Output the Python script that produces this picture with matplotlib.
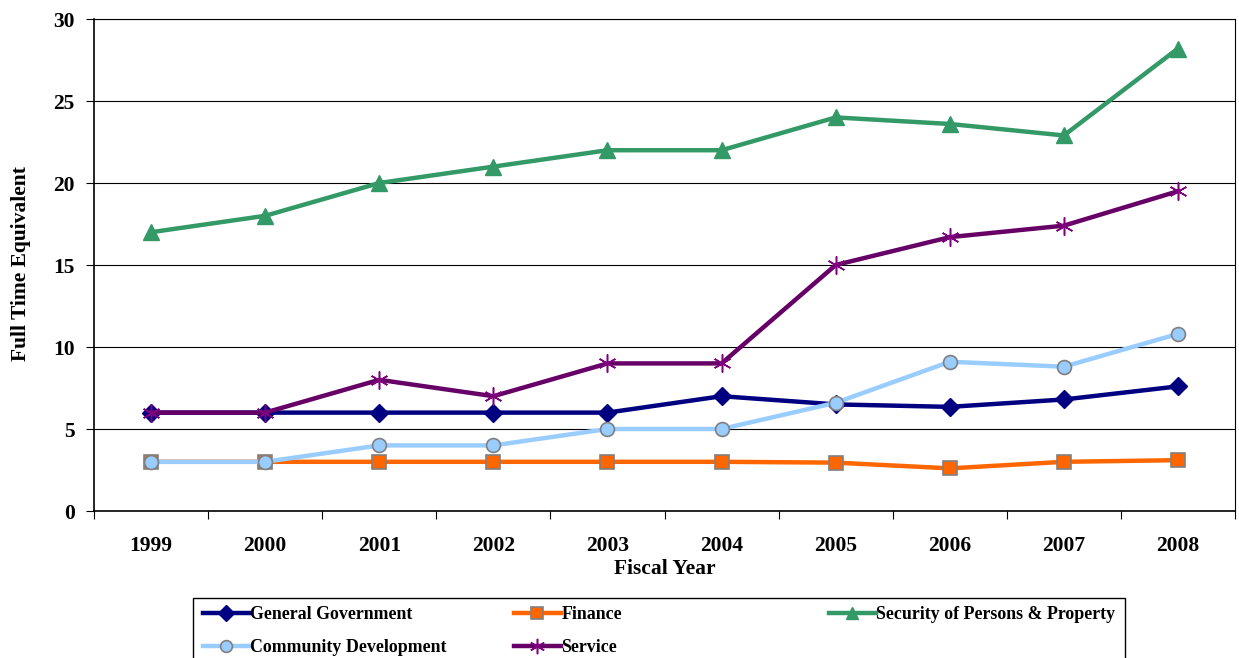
"""Full time equivalent staffing by function, fiscal years 1999-2008."""

import matplotlib

matplotlib.use("Agg")
import matplotlib.pyplot as plt
from matplotlib.patches import Rectangle

years = ["1999", "2000", "2001", "2002", "2003", "2004", "2005", "2006", "2007", "2008"]

general_government = [6, 6, 6, 6, 6, 7, 6.5, 6.35, 6.8, 7.6]
finance = [3, 3, 3, 3, 3, 3, 2.95, 2.6, 3.0, 3.1]
security = [17, 18, 20, 21, 22, 22, 24, 23.6, 22.9, 28.2]
community_development = [3, 3, 4, 4, 5, 5, 6.6, 9.1, 8.8, 10.8]
service = [6, 6, 8, 7, 9, 9, 15, 16.7, 17.4, 19.5]

y_ticks = [0, 5, 10, 15, 20, 25, 30]

plt.rcParams["font.family"] = ["Liberation Serif", "DejaVu Serif"]
plt.rcParams["font.weight"] = "bold"

fig = plt.figure(figsize=(12.39, 6.58), dpi=100)
ax = fig.add_axes([0.0759, 0.2234, 0.9209, 0.7477])

x = list(range(len(years)))

gg, = ax.plot(x, general_government, color="#000080", linewidth=3.2, marker="D",
              markersize=9, markerfacecolor="#000080", markeredgecolor="#000080",
              label="General Government", zorder=3)
fin, = ax.plot(x, finance, color="#FF6600", linewidth=3.2, marker="s",
               markersize=10, markerfacecolor="#FF6600", markeredgecolor="#808080",
               markeredgewidth=1.2, label="Finance", zorder=3)
sec, = ax.plot(x, security, color="#339966", linewidth=3.2, marker="^",
               markersize=11, markerfacecolor="#339966", markeredgecolor="#339966",
               label="Security of Persons & Property", zorder=3)
cd, = ax.plot(x, community_development, color="#99CCFF", linewidth=3.2, marker="o",
              markersize=10, markerfacecolor="#99CCFF", markeredgecolor="#808080",
              markeredgewidth=1.2, label="Community Development", zorder=3)
svc, = ax.plot(x, service, color="#660066", linewidth=3.2, marker=(6, 2, 0),
               markersize=13, markerfacecolor="#800080", markeredgecolor="#800080",
               markeredgewidth=1.1, label="Service", zorder=3)

ax.set_xlim(-0.5, len(years) - 0.5)
ax.set_ylim(0, 30)
ax.set_yticks(y_ticks)
ax.set_yticklabels([str(t) for t in y_ticks], fontsize=15.5, fontweight="bold")
ax.set_xticks(x)
ax.set_xticklabels(years, fontsize=15.5, fontweight="bold")
ax.set_xticks([i - 0.5 for i in range(len(years) + 1)], minor=True)
ax.tick_params(axis="x", which="major", length=0, pad=18)
ax.tick_params(axis="x", which="minor", length=6, direction="out", width=0.8)
ax.tick_params(axis="y", length=6, direction="out", width=0.8, pad=8)

ax.grid(axis="y", color="black", linewidth=0.8)
ax.set_axisbelow(True)
for spine in ax.spines.values():
    spine.set_color("black")
    spine.set_linewidth(0.8)
ax.spines["bottom"].set_linewidth(1.2)
ax.spines["left"].set_linewidth(1.2)

ax.set_xlabel("Fiscal Year", fontsize=15.5, fontweight="bold")
ax.xaxis.set_label_coords(0.5, -0.097)
ax.set_ylabel("Full Time Equivalent", fontsize=15.5, fontweight="bold")
ax.yaxis.set_label_coords(-0.0556, 0.502)

# legend: frame drawn separately so the three columns sit at fixed positions
fig.patches.append(Rectangle((193 / 1239, -0.01), (1125 - 193) / 1239, (658 - 598) / 658 + 0.01,
                             transform=fig.transFigure, fill=False, edgecolor="black",
                             linewidth=1.0))
legend_kw = dict(frameon=False, fontsize=12.9, handlelength=2.6, handletextpad=0.05,
                 labelspacing=0.9, borderaxespad=0, borderpad=0)
columns = [([gg, cd], 203), ([fin, svc], 514), ([sec], 829)]
for handles, left in columns:
    leg = fig.legend(handles=handles, loc="upper left",
                     bbox_to_anchor=(left / 1239, 1 - 606 / 658), **legend_kw)
    for text in leg.get_texts():
        text.set_fontweight("bold")
    for line in leg.get_lines():
        line.set_markersize(line.get_markersize() * 0.85)

fig.savefig("out.png", dpi=100)
